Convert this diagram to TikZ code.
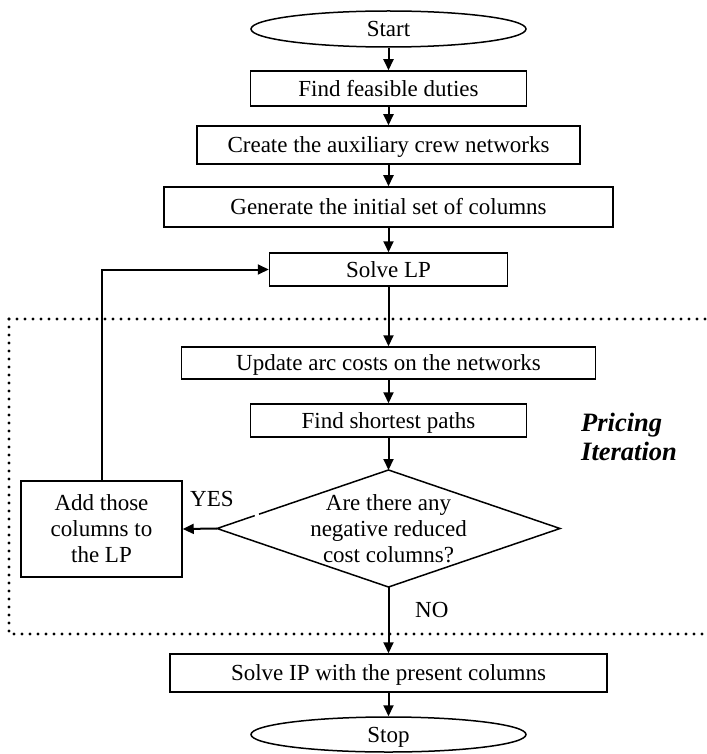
\documentclass[tikz,border=0pt]{standalone}
\usepackage{fontspec}
\setmainfont{Liberation Serif}
\usetikzlibrary{arrows.meta,shapes.geometric,calc}
\begin{document}
\begin{tikzpicture}[x=1pt,y=-1pt,
  every node/.style={font=\fontsize{23}{26}\selectfont, inner sep=0pt},
  box/.style={draw, line width=1.5pt, rectangle},
  stepbox/.style={box, text height=15.2pt, text depth=0pt},
  term/.style={draw, line width=1.5pt, ellipse, minimum width=275pt, text height=15.2pt, text depth=0pt},
  flow/.style={line width=2pt, -{Triangle[length=11pt,width=10pt]}},
  zone/.style={line width=3.2pt, line cap=round, dash pattern=on 0pt off 8pt},
  answer/.style={anchor=base west},
  sidenote/.style={font=\fontsize{26.5}{28}\selectfont\bfseries\itshape, anchor=base west}
]
\useasboundingbox (0,0) rectangle (706,754);

% pricing-iteration frame, open on the right
\draw[zone] (9,319) -- (706,319);
\draw[zone] (9,319) -- (9,634) -- (706,634);

% main column of steps
\node[term, minimum height=36pt] (start) at (388.5,29) {Start};
\node[stepbox, minimum width=276pt, minimum height=35pt] (feas) at (388.5,88.5) {Find feasible duties};
\node[stepbox, minimum width=383pt, minimum height=38pt] (crew) at (388.5,145) {Create the auxiliary crew networks};
\node[stepbox, minimum width=449pt, minimum height=40pt] (init) at (388.5,207) {Generate the initial set of columns};
\node[stepbox, minimum width=238pt, minimum height=33pt] (lp) at (388.5,269.5) {Solve LP};
\node[stepbox, minimum width=414pt, minimum height=32pt] (upd) at (388.5,363) {Update arc costs on the networks};
\node[stepbox, minimum width=276pt, minimum height=33pt] (sp) at (388.5,420.5) {Find shortest paths};

% decision
\coordinate (qt) at (388.5,470);
\coordinate (qb) at (388.5,587);
\coordinate (ql) at (217,528.5);
\coordinate (qr) at (560,528.5);
\node[align=center] (q) at (388.5,528.5) {Are there any\\negative reduced\\cost columns?};
\draw[line width=1.5pt, line join=miter]
  ($(ql)!0.245!(qt)$) -- (qt) -- (qr) -- (qb) -- (ql) -- ($(ql)!0.22!(qt)$);

\node[box, align=center, minimum width=161pt, minimum height=96pt] (add) at (101.5,529) {Add those\\columns to\\the LP};
\node[stepbox, minimum width=437pt, minimum height=38pt] (ip) at (388.5,673) {Solve IP with the present columns};
\node[term, minimum height=35pt] (stop) at (388.5,734.5) {Stop};

% labels
\node[answer] (yes) at (190,506) {YES};
\node[answer] (no) at (415,617) {NO};
\node[sidenote] (pr1) at (581,431.7) {Pricing};
\node[sidenote] (pr2) at (581,460) {Iteration};

% connectors
\draw[flow] (start.south) -- (feas.north);
\draw[flow] (feas.south) -- (crew.north);
\draw[flow] (crew.south) -- (init.north);
\draw[flow] (init.south) -- (lp.north);
\draw[flow] (lp.south) -- (upd.north);
\draw[flow] (upd.south) -- (sp.north);
\draw[flow] (sp.south) -- (qt);
\draw[flow] (ql) -- (add.east);
\draw[flow] (add.north) |- (lp.west);
\draw[flow] (qb) -- (ip.north);
\draw[flow] (ip.south) -- (stop.north);
\end{tikzpicture}
\end{document}
